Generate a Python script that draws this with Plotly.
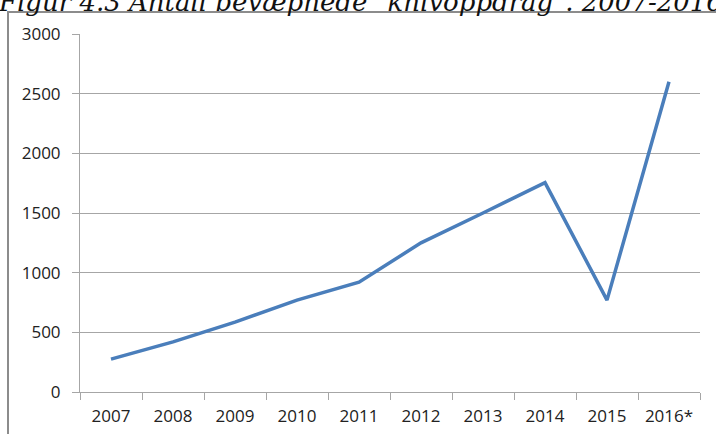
import plotly.graph_objects as go

years = ["2007", "2008", "2009", "2010", "2011", "2012", "2013", "2014", "2015", "2016*"]
values = [275, 420, 585, 770, 920, 1250, 1500, 1755, 770, 2600]
y_ticks = [0, 500, 1000, 1500, 2000, 2500, 3000]
title_text = 'Figur 4.3 Antall bevæpnede "knivoppdrag". 2007-2016'

fig = go.Figure()
fig.add_trace(go.Scatter(
    x=years, y=values, mode="lines",
    line=dict(color="#4a7ebb", width=3.5),
    hoverinfo="skip",
))

grid = "#a6a6a6"
fig.update_layout(
    width=716, height=434,
    margin=dict(l=80, r=16, t=34, b=42),
    paper_bgcolor="white", plot_bgcolor="white",
    showlegend=False,
    font=dict(family="Open Sans", size=17, color="#222"),
    xaxis=dict(
        type="category", tickson="boundaries", ticks="outside", ticklen=7,
        tickcolor=grid, showline=True, linecolor=grid, linewidth=1,
        showgrid=False, range=[-0.5, 9.5], fixedrange=True,
        ticklabelstandoff=9, automargin=False,
    ),
    yaxis=dict(
        range=[0, 3000], tickvals=y_ticks, ticks="outside", ticklen=7,
        tickcolor=grid, showline=True, linecolor=grid, linewidth=1,
        showgrid=True, gridcolor=grid, gridwidth=1, zeroline=False,
        ticklabelstandoff=8, fixedrange=True, automargin=False,
    ),
    shapes=[dict(
        type="rect", xref="paper", yref="paper",
        x0=(8 - 80) / 620, x1=1.5, y0=-0.5, y1=(392 - 12) / 358,
        line=dict(color="#8c8c8c", width=2), fillcolor="rgba(0,0,0,0)",
        layer="below",
    )],
    annotations=[dict(
        text=title_text, xref="paper", yref="paper",
        x=(-4 - 80) / 620, y=1, xanchor="left", yanchor="bottom",
        yshift=15, showarrow=False,
        font=dict(family="DejaVu Serif", size=26, color="#111", style="italic"),
    )],
)

fig.write_html("out.html", config={"displayModeBar": False},
               post_script="document.body.style.margin='0';")
